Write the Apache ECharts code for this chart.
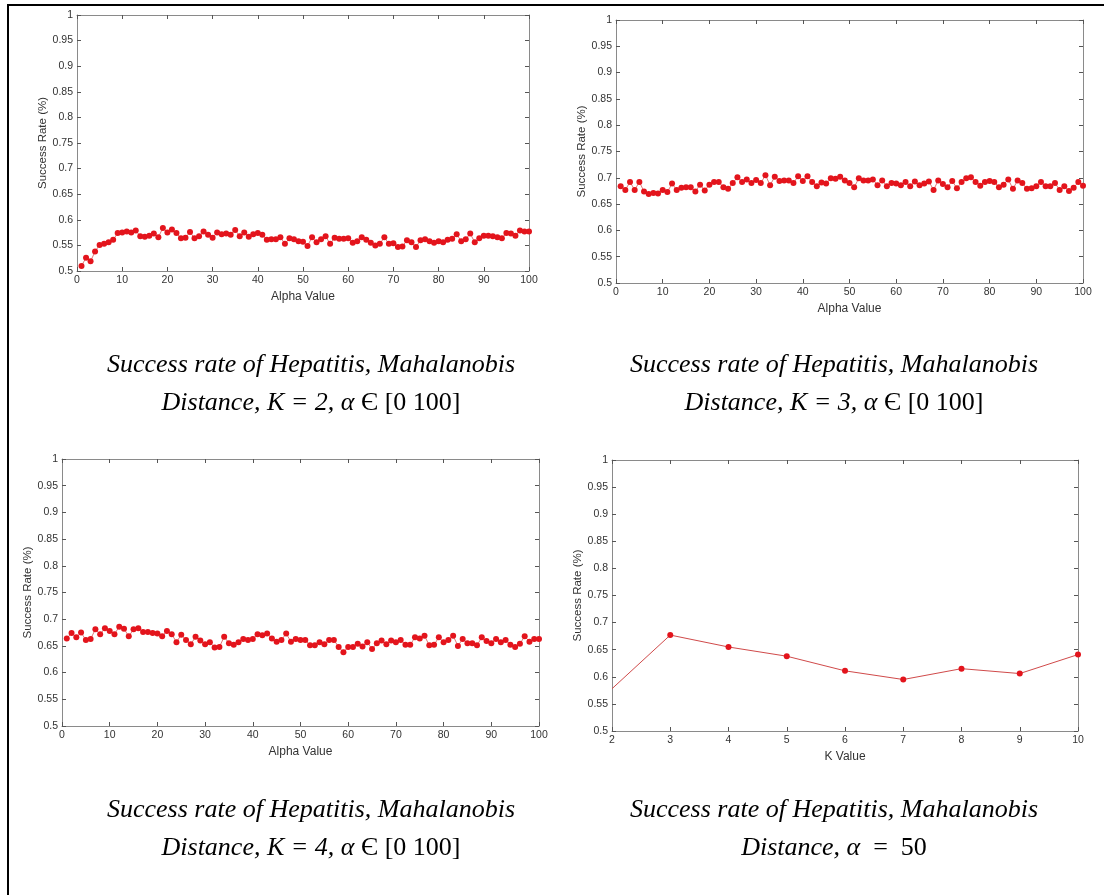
<!DOCTYPE html>
<html>
<head>
<meta charset="utf-8">
<script src="https://cdn.jsdelivr.net/npm/echarts@6/dist/echarts.min.js"></script>
<style>
html,body{margin:0;padding:0;background:#fff;}
#chart{width:1104px;height:895px;}
</style>
</head>
<body>
<div id="chart"></div>
<script>
// ---------- data ----------
const yTicks = [0.5,0.55,0.6,0.65,0.7,0.75,0.8,0.85,0.9,0.95,1];
const alphaTicks = [0,10,20,30,40,50,60,70,80,90,100];
const kValues = [2,3,4,5,6,7,8,9,10];

// success rate, K = 2, alpha = 1..100
const rateK2 = [
0.510,0.526,0.519,0.538,0.551,0.553,0.556,0.561,0.574,0.575,
0.577,0.575,0.579,0.568,0.567,0.569,0.573,0.566,0.584,0.575,
0.581,0.574,0.564,0.565,0.576,0.564,0.568,0.577,0.571,0.565,
0.575,0.572,0.573,0.571,0.580,0.568,0.575,0.567,0.572,0.574,
0.571,0.561,0.562,0.562,0.566,0.553,0.564,0.562,0.558,0.557,
0.549,0.566,0.556,0.562,0.568,0.553,0.565,0.563,0.563,0.564,
0.555,0.558,0.566,0.561,0.555,0.550,0.553,0.566,0.553,0.554,
0.547,0.548,0.560,0.556,0.547,0.560,0.562,0.558,0.555,0.558,
0.556,0.561,0.563,0.572,0.558,0.562,0.573,0.556,0.564,0.569,
0.569,0.568,0.566,0.564,0.574,0.573,0.569,0.579,0.577,0.577
];

// success rate, K = 3, alpha = 1..100
const rateK3 = [
0.684,0.677,0.692,0.677,0.692,0.674,0.669,0.671,0.670,0.677,
0.673,0.689,0.677,0.681,0.682,0.682,0.674,0.687,0.676,0.687,
0.692,0.692,0.682,0.679,0.690,0.701,0.692,0.697,0.690,0.696,
0.690,0.705,0.686,0.702,0.694,0.695,0.695,0.690,0.703,0.694,
0.703,0.692,0.684,0.691,0.689,0.699,0.698,0.702,0.695,0.690,
0.682,0.699,0.695,0.695,0.697,0.686,0.695,0.684,0.690,0.689,
0.686,0.692,0.684,0.693,0.686,0.689,0.693,0.677,0.695,0.688,
0.682,0.694,0.680,0.692,0.699,0.701,0.692,0.685,0.692,0.694,
0.692,0.682,0.687,0.697,0.679,0.695,0.690,0.679,0.680,0.684,
0.692,0.684,0.684,0.690,0.677,0.684,0.675,0.681,0.692,0.685
];

// success rate, K = 4, alpha = 1..100
const rateK4 = [
0.664,0.674,0.666,0.675,0.661,0.663,0.681,0.672,0.683,0.678,
0.672,0.686,0.682,0.668,0.681,0.683,0.676,0.676,0.674,0.673,
0.668,0.678,0.672,0.657,0.671,0.661,0.653,0.667,0.660,0.653,
0.657,0.647,0.648,0.667,0.655,0.652,0.657,0.663,0.661,0.663,
0.672,0.670,0.673,0.664,0.658,0.661,0.673,0.658,0.663,0.661,
0.661,0.651,0.651,0.657,0.653,0.661,0.661,0.648,0.638,0.648,
0.648,0.654,0.649,0.657,0.644,0.655,0.660,0.653,0.660,0.657,
0.661,0.652,0.652,0.666,0.664,0.669,0.651,0.652,0.666,0.657,
0.661,0.669,0.650,0.663,0.655,0.655,0.651,0.666,0.659,0.655,
0.663,0.657,0.661,0.652,0.648,0.654,0.668,0.658,0.663,0.663
];

// success rate vs K, alpha = 50
const rateAlpha50 = [0.578,0.677,0.655,0.638,0.611,0.595,0.615,0.606,0.641];

// ---------- layout / style ----------
const chart = echarts.init(document.getElementById('chart'), null, {renderer:'canvas'});
const AX = '#8a8a8a';
const LBL = '#333';
const SANS = "'Liberation Sans', Arial, sans-serif";
const SERIF = "'Liberation Serif', 'Times New Roman', serif";

const grids = [
  {left:77,  top:15,  width:452, height:256},
  {left:616, top:20,  width:467, height:263},
  {left:62,  top:459, width:477, height:267},
  {left:612, top:460, width:466, height:271}
];

const xAxes = [], yAxes = [], series = [];
const xDefs = [
  {min:0,max:100,interval:10,name:'Alpha Value'},
  {min:0,max:100,interval:10,name:'Alpha Value'},
  {min:0,max:100,interval:10,name:'Alpha Value'},
  {min:2,max:10,interval:1,name:'K Value'}
];
grids.forEach((g,i)=>{
  const xd = xDefs[i];
  const common = {
    type:'value', gridIndex:i, min:xd.min, max:xd.max, interval:xd.interval,
    axisLine:{show:true,onZero:false,lineStyle:{color:AX,width:1}},
    axisTick:{show:true,inside:true,length:4,lineStyle:{color:'#555'}},
    splitLine:{show:false}
  };
  xAxes.push(Object.assign({}, common, {
    position:'bottom', name:xd.name, nameLocation:'middle', nameGap:20,
    nameTextStyle:{fontFamily:SANS,fontSize:12,color:LBL},
    axisLabel:{show:true,fontFamily:SANS,fontSize:10.5,color:LBL,margin:4}
  }));
  xAxes.push(Object.assign({}, common, {position:'top', axisLabel:{show:false}}));
  const ycommon = {
    type:'value', gridIndex:i, min:0.5, max:1, interval:0.05,
    axisLine:{show:true,onZero:false,lineStyle:{color:AX,width:1}},
    axisTick:{show:true,inside:true,length:4,lineStyle:{color:'#555'}},
    splitLine:{show:false}
  };
  yAxes.push(Object.assign({}, ycommon, {
    position:'left', name:'Success Rate (%)', nameLocation:'middle', nameGap:27,
    nameTextStyle:{fontFamily:SANS,fontSize:11.5,color:LBL},
    axisLabel:{show:true,fontFamily:SANS,fontSize:10.5,color:LBL,margin:4,
      formatter:v=>String(+v.toFixed(2))}
  }));
  yAxes.push(Object.assign({}, ycommon, {position:'right', axisLabel:{show:false}}));
});

function alphaSeries(vals, gi){
  return {
    type:'line', xAxisIndex:gi*2, yAxisIndex:gi*2,
    data: vals.map((v,j)=>[j+1, v]),
    symbol:'circle', symbolSize:6, showSymbol:true,
    itemStyle:{color:'#e3141c'},
    lineStyle:{color:'#e07a7a', width:1},
    animation:false, silent:true
  };
}
series.push(alphaSeries(rateK2,0));
series.push(alphaSeries(rateK3,1));
series.push(alphaSeries(rateK4,2));
series.push({
  type:'line', xAxisIndex:6, yAxisIndex:6,
  data: rateAlpha50.map((v,j)=>({value:[kValues[j], v], symbolSize: j===0?0:6})),
  symbol:'circle', showSymbol:true,
  itemStyle:{color:'#e3141c'},
  lineStyle:{color:'#d04a4a', width:1},
  animation:false, silent:true
});

// captions
const CF = 26;
const rich = {
  i:{fontFamily:SERIF,fontStyle:'italic',fontSize:CF,fill:'#000',color:'#000'},
  n:{fontFamily:SERIF,fontStyle:'normal',fontSize:CF,fill:'#000',color:'#000'}
};
function cap(x,y,text){
  return {type:'text', x:x, y:y, silent:true,
    style:{text:text, rich:rich, align:'center', verticalAlign:'middle',
      font:"italic "+CF+"px "+SERIF, fill:'#000'}};
}
const graphics = [
  {type:'rect', shape:{x:8,y:5,width:1200,height:1000}, style:{fill:'none',stroke:'#000',lineWidth:2}, silent:true},
  cap(311,365,'{i|Success rate of Hepatitis, Mahalanobis}'),
  cap(311,403,'{i|Distance, K = 2, α} {n|Є [0 100]}'),
  cap(834,365,'{i|Success rate of Hepatitis, Mahalanobis}'),
  cap(834,403,'{i|Distance, K = 3, α} {n|Є [0 100]}'),
  cap(311,810,'{i|Success rate of Hepatitis, Mahalanobis}'),
  cap(311,848,'{i|Distance, K = 4, α} {n|Є [0 100]}'),
  cap(834,810,'{i|Success rate of Hepatitis, Mahalanobis}'),
  cap(834,848,'{i|Distance, α}{n|  =  50}')
];

chart.setOption({
  animation:false,
  backgroundColor:'#fff',
  grid: grids.map(g=>Object.assign({show:false,containLabel:false}, g)),
  xAxis: xAxes, yAxis: yAxes, series: series,
  graphic: graphics
});
</script>
</body>
</html>
